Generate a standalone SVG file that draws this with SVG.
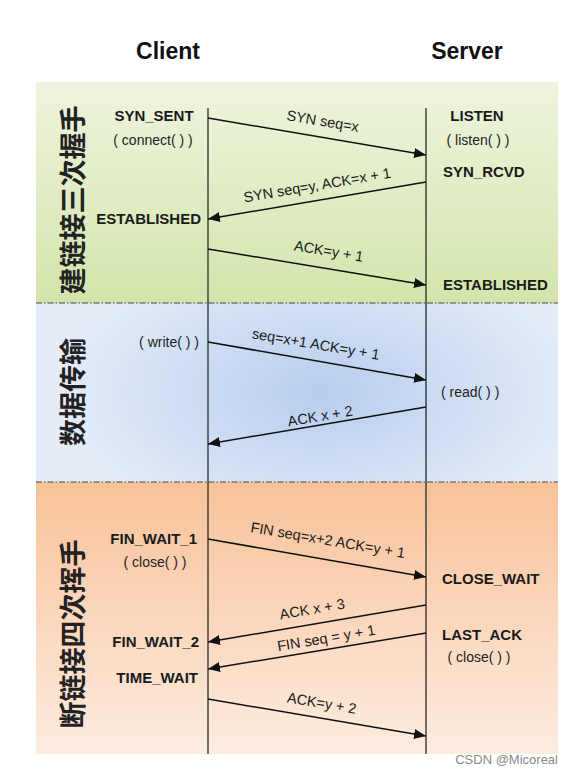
<svg xmlns="http://www.w3.org/2000/svg" width="574" height="774" viewBox="0 0 574 774">
<defs>
<linearGradient id="gGreen" x1="0" y1="0" x2="0" y2="1">
<stop offset="0" stop-color="#eff4de"/>
<stop offset="1" stop-color="#d2e5ab"/>
</linearGradient>
<radialGradient id="gBlue" cx="320" cy="392" r="260" gradientUnits="userSpaceOnUse" gradientTransform="translate(320 392) scale(1 0.55) translate(-320 -392)">
<stop offset="0" stop-color="#b6cdee"/>
<stop offset="1" stop-color="#e4ecf8"/>
</radialGradient>
<linearGradient id="gOrange" x1="0" y1="0" x2="0" y2="1">
<stop offset="0" stop-color="#f8c299"/>
<stop offset="1" stop-color="#fdece0"/>
</linearGradient>
<marker id="ah" markerWidth="13" markerHeight="11" refX="12" refY="5" orient="auto" markerUnits="userSpaceOnUse">
<path d="M0,0 L12,5 L0,10 z" fill="#111"/>
</marker>
<style>
.title{font-family:"Liberation Sans",Arial,sans-serif;font-weight:bold;font-size:23px;fill:#111;text-anchor:middle}
.st{font-family:"Liberation Sans",Arial,sans-serif;font-weight:bold;font-size:15px;fill:#1a1a1a}
.fn{font-family:"Liberation Sans",Arial,sans-serif;font-size:14px;fill:#222}
.lbl{font-family:"Liberation Sans",Arial,sans-serif;font-size:14.5px;fill:#1a1a1a;text-anchor:middle}
.cjk{font-family:"Noto Sans CJK SC","Noto Sans",sans-serif;font-size:27px;font-weight:bold;fill:#222;text-anchor:middle;dominant-baseline:central}
.life{stroke:#2a2a2a;stroke-width:1.3;fill:none}
.msg{stroke:#111;stroke-width:1.5;fill:none;marker-end:url(#ah)}
.sep{stroke:#444;stroke-width:1.2;stroke-dasharray:6 2 1.5 2;fill:none}
.wm{font-family:"Liberation Sans",Arial,sans-serif;font-size:13px;fill:#8a8a8a;text-anchor:end}
</style>
</defs>
<rect width="574" height="774" fill="#ffffff"/>
<g id="bands">
<rect x="36" y="82" width="522" height="221" fill="url(#gGreen)"/>
<rect x="36" y="303" width="522" height="179" fill="url(#gBlue)"/>
<rect x="36" y="482" width="522" height="272" fill="url(#gOrange)"/>
<line class="sep" x1="36" y1="303" x2="558" y2="303"/>
<line class="sep" x1="36" y1="482" x2="558" y2="482"/>
</g>
<g id="client">
<text class="title" x="168" y="59">Client</text>
<line class="life" x1="208" y1="108" x2="208" y2="754"/>
</g>
<g id="server">
<text class="title" x="467" y="59">Server</text>
<line class="life" x1="426" y1="108" x2="426" y2="754"/>
</g>
<g id="phase-labels">
<text class="cjk" transform="translate(71 200) rotate(-90)">建链接三次握手</text>
<text class="cjk" transform="translate(71 392) rotate(-90)">数据传输</text>
<text class="cjk" transform="translate(71 634) rotate(-90)">断链接四次挥手</text>
</g>
<g id="client-states">
<text class="st" x="154" y="121" text-anchor="middle">SYN_SENT</text>
<text class="fn" x="153" y="145" text-anchor="middle">( connect( ) )</text>
<text class="st" x="201" y="224" text-anchor="end">ESTABLISHED</text>
<text class="fn" x="199" y="347" text-anchor="end">( write( ) )</text>
<text class="st" x="197" y="544" text-anchor="end">FIN_WAIT_1</text>
<text class="fn" x="155" y="567" text-anchor="middle">( close( ) )</text>
<text class="st" x="199" y="647" text-anchor="end">FIN_WAIT_2</text>
<text class="st" x="198" y="683" text-anchor="end">TIME_WAIT</text>
</g>
<g id="server-states">
<text class="st" x="477" y="121" text-anchor="middle">LISTEN</text>
<text class="fn" x="478" y="145" text-anchor="middle">( listen( ) )</text>
<text class="st" x="443" y="177">SYN_RCVD</text>
<text class="st" x="443" y="290">ESTABLISHED</text>
<text class="fn" x="441" y="397">( read( ) )</text>
<text class="st" x="442" y="584">CLOSE_WAIT</text>
<text class="st" x="442" y="640">LAST_ACK</text>
<text class="fn" x="479" y="662" text-anchor="middle">( close( ) )</text>
</g>
<g id="connectors">
<line class="msg" x1="208" y1="118" x2="426" y2="155"/>
<line class="msg" x1="426" y1="182" x2="208" y2="219"/>
<line class="msg" x1="208" y1="249" x2="426" y2="285"/>
<line class="msg" x1="208" y1="342" x2="426" y2="380"/>
<line class="msg" x1="426" y1="407" x2="208" y2="444"/>
<line class="msg" x1="208" y1="539" x2="426" y2="577"/>
<line class="msg" x1="426" y1="605" x2="208" y2="642"/>
<line class="msg" x1="426" y1="633" x2="208" y2="669"/>
<line class="msg" x1="208" y1="699" x2="426" y2="736"/>
<text class="lbl" transform="translate(322 126) rotate(9.6)">SYN seq=x</text>
<text class="lbl" transform="translate(318 190) rotate(-9.6)">SYN seq=y, ACK=x + 1</text>
<text class="lbl" transform="translate(328 256) rotate(9.6)">ACK=y + 1</text>
<text class="lbl" transform="translate(315 349) rotate(9.6)">seq=x+1 ACK=y + 1</text>
<text class="lbl" transform="translate(321 421) rotate(-9.6)">ACK x + 2</text>
<text class="lbl" transform="translate(327 545) rotate(9.6)">FIN seq=x+2 ACK=y + 1</text>
<text class="lbl" transform="translate(313 614) rotate(-9.6)">ACK x + 3</text>
<text class="lbl" transform="translate(327 643) rotate(-9.6)">FIN seq = y + 1</text>
<text class="lbl" transform="translate(321 708) rotate(9.6)">ACK=y + 2</text>
</g>
<text class="wm" x="558" y="764">CSDN @Micoreal</text>
</svg>
